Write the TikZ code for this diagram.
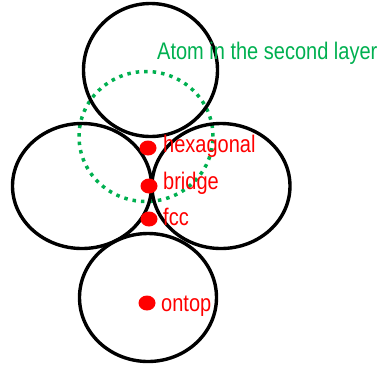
\documentclass[tikz,border=0pt]{standalone}
\usepackage{fontspec}
\setmainfont{Liberation Sans}
\usetikzlibrary{shapes.geometric,positioning}
\definecolor{sitered}{RGB}{255,0,0}
\definecolor{layergreen}{RGB}{0,176,80}

\newcommand{\tallword}[1]{\scalebox{1}[1.2]{#1}}

\tikzset{
  atom/.style={draw,ellipse,line width=3.4pt,inner sep=0pt},
  upperatom/.style={draw=layergreen,ellipse,line width=3.5pt,dash pattern=on 3.5pt off 5pt,inner sep=0pt},
  site/.style={fill=sitered,ellipse,inner sep=0pt,minimum width=17pt,minimum height=15pt},
  sitelabel/.style={text=sitered,anchor=base west,inner sep=0pt,font=\fontsize{20}{20}\selectfont}
}

\begin{document}
\begin{tikzpicture}[x=1pt,y=-1pt]
    \useasboundingbox (0,0) rectangle (382,365);

    % second layer atom
    \node[upperatom,minimum width=134pt,minimum height=130pt] (upper) at (146,136.5) {};

    % first layer atoms
    \node[atom,minimum width=134pt,minimum height=133pt] (top) at (150.5,70) {};
    \node[atom,minimum width=139pt,minimum height=125pt] (left) at (82,186) {};
    \node[atom,minimum width=138pt,minimum height=125pt] (right) at (221,186) {};
    \node[atom,minimum width=137pt,minimum height=128pt] (bottom) at (148,297.5) {};

    % adsorption sites
    \node[site] (hex) at (148,148) {};
    \node[site] (bri) at (149,186) {};
    \node[site] (fcc) at (149,219) {};
    \node[site] (ont) at (147,303) {};

    \node[sitelabel] (hexlbl) at (163,152) {\tallword{hexagonal}};
    \node[sitelabel] (brilbl) at (163,189) {\tallword{bridge}};
    \node[sitelabel] (fcclbl) at (163,225) {\tallword{fcc}};
    \node[sitelabel] (ontlbl) at (161,311) {\tallword{ontop}};

    \node[sitelabel,text=layergreen] (upperlbl) at (157,59) {\tallword{Atom in the second layer}};
\end{tikzpicture}
\end{document}
